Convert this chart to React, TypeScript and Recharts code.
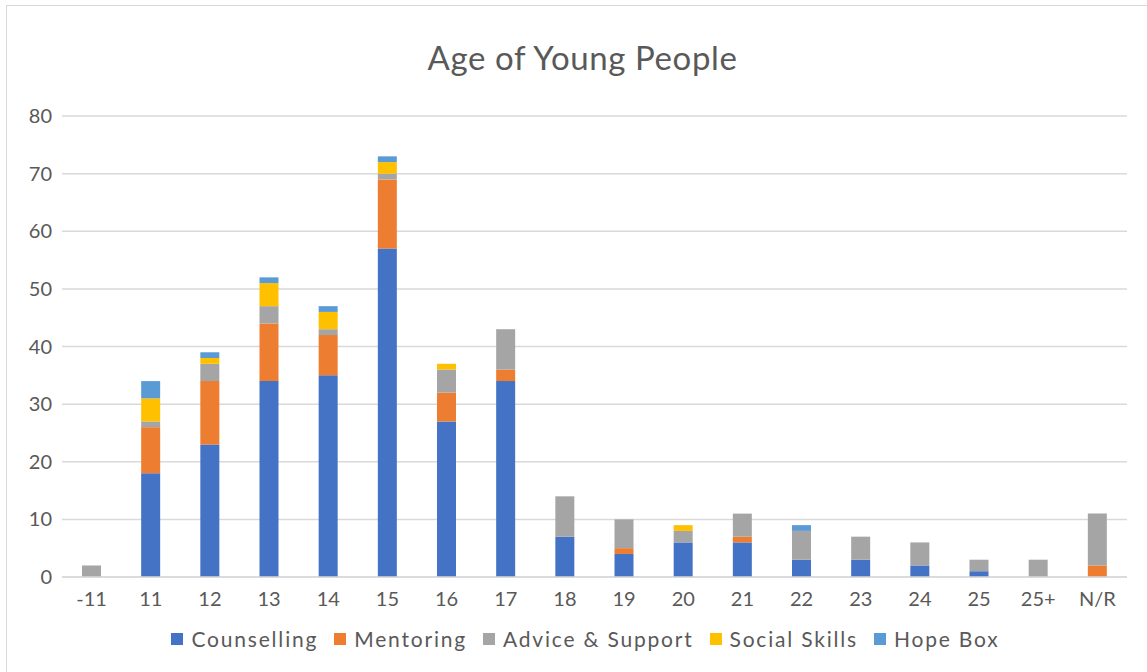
import React from 'react';
import { BarChart, Bar, XAxis, YAxis, CartesianGrid, Legend } from 'recharts';

const categories = ['-11', '11', '12', '13', '14', '15', '16', '17', '18', '19', '20', '21', '22', '23', '24', '25', '25+', 'N/R'];
const counselling = [0, 18, 23, 34, 35, 57, 27, 34, 7, 4, 6, 6, 3, 3, 2, 1, 0, 0];
const mentoring = [0, 8, 11, 10, 7, 12, 5, 2, 0, 1, 0, 1, 0, 0, 0, 0, 0, 2];
const advice = [2, 1, 3, 3, 1, 1, 4, 7, 7, 5, 2, 4, 5, 4, 4, 2, 3, 9];
const socialSkills = [0, 4, 1, 4, 3, 2, 1, 0, 0, 0, 1, 0, 0, 0, 0, 0, 0, 0];
const hopeBox = [0, 3, 1, 1, 1, 1, 0, 0, 0, 0, 0, 0, 1, 0, 0, 0, 0, 0];
const yTicks = [0, 10, 20, 30, 40, 50, 60, 70, 80];

const seriesNames = ['Counselling', 'Mentoring', 'Advice & Support', 'Social Skills', 'Hope Box'];
const seriesColors = ['#4472C4', '#ED7D31', '#A5A5A5', '#FFC000', '#5B9BD5'];
const seriesValues = [counselling, mentoring, advice, socialSkills, hopeBox];
const seriesKeys = ['s0', 's1', 's2', 's3', 's4'];

const data = categories.map((c, i) => {
  const row: Record<string, string | number> = { cat: c };
  seriesKeys.forEach((k, j) => {
    row[k] = seriesValues[j][i];
  });
  return row;
});

const FONT = 'Lato, "Open Sans", sans-serif';

const renderLegend = () => (
  <div style={{ display: 'flex', justifyContent: 'center', alignItems: 'center', fontFamily: FONT, fontSize: 21, color: '#595959', paddingLeft: 60 }}>
    {seriesNames.map((n, i) => (
      <div key={n} style={{ display: 'flex', alignItems: 'center', marginRight: 16 }}>
        <div style={{ width: 12, height: 12, background: seriesColors[i], marginRight: 8 }} />
        <span style={{ letterSpacing: 1.8 }}>{n}</span>
      </div>
    ))}
  </div>
);

export default function App() {
  return (
    <div style={{ position: 'absolute', left: 0, top: 0, width: 1147, height: 672, background: '#fff' }}>
      <div style={{ position: 'absolute', left: 6, top: 5, width: 1147, height: 672, border: '1px solid #d9d9d9', boxSizing: 'border-box' }} />
      <div style={{ position: 'absolute', left: 0, top: 37, width: 1165, textAlign: 'center', fontFamily: FONT, fontSize: 33, letterSpacing: 0.6, color: '#595959' }}>
        Age of Young People
      </div>
      <div style={{ position: 'absolute', left: 0, top: 0 }}>
        <BarChart width={1147} height={672} data={data} margin={{ top: 116, right: 20, left: 0, bottom: 20 }} barSize={19}>
          <CartesianGrid horizontal vertical={false} stroke="#d9d9d9" strokeWidth={1.5} />
          <XAxis dataKey="cat" height={30} tickLine={false} tickMargin={9} axisLine={{ stroke: '#d9d9d9', strokeWidth: 1.5 }} tick={{ fill: '#595959', fontSize: 20, fontFamily: FONT }} interval={0} />
          <YAxis width={62} domain={[0, 80]} ticks={yTicks} axisLine={false} tickLine={false} tickMargin={4} tick={{ fill: '#595959', fontSize: 20, fontFamily: FONT }} />
          <Legend verticalAlign="bottom" height={45} content={renderLegend} wrapperStyle={{ top: 626, bottom: 'auto' }} />
          {seriesKeys.map((k, i) => (
            <Bar key={k} dataKey={k} name={seriesNames[i]} stackId="a" fill={seriesColors[i]} isAnimationActive={false} />
          ))}
        </BarChart>
      </div>
    </div>
  );
}
